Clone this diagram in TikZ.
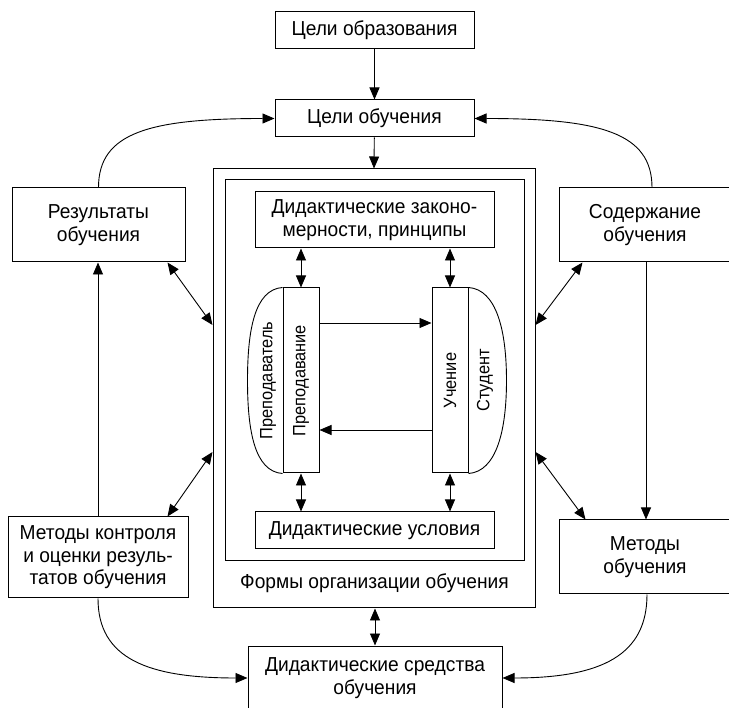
\documentclass[tikz,border=0pt]{standalone}
\usepackage{fontspec}
\setmainfont{Liberation Sans}[FakeStretch=0.95]
\newfontfamily\rotfont{Liberation Sans}[FakeStretch=0.92]
\usetikzlibrary{arrows.meta}
\tikzset{
  box/.style={draw, line width=1pt, inner sep=0pt, align=center, font=\fontsize{20.2}{22.5}\selectfont},
  frame/.style={draw, line width=1pt, inner sep=0pt},
  lbl/.style={inner sep=0pt, font=\fontsize{20.2}{22.5}\selectfont},
  rlbl/.style={inner sep=0pt, rotate=90, font=\rotfont\fontsize{17.8}{20}\selectfont},
  conn/.style={line width=0.9pt, -{Triangle[length=12pt,width=10pt]}},
  biconn/.style={line width=0.9pt, {Triangle[length=12pt,width=10pt]}-{Triangle[length=12pt,width=10pt]}},
  plain/.style={line width=0.9pt}
}
\begin{document}
\begin{tikzpicture}[x=1pt,y=-1pt]
\useasboundingbox (0,0) rectangle (729,708);
% frames
\node[frame, minimum width=322pt, minimum height=439pt] (outer) at (374,388.5) {};
\node[frame, minimum width=299pt, minimum height=381pt] (inner) at (374.5,370.5) {};
% boxes
\node[box, minimum width=199pt, minimum height=37pt] (celiobr) at (374.5,30.5) {Цели образования};
\node[box, minimum width=199pt, minimum height=37pt] (celiob) at (374.5,118.5) {Цели обучения};
\node[box, minimum width=239pt, minimum height=56pt] (zakon) at (374.5,220) {Дидактические законо-\\мерности, принципы};
\node[box, minimum width=239pt, minimum height=37pt] (usl) at (374.5,530.5) {Дидактические условия};
\node[box, minimum width=173pt, minimum height=74pt] (res) at (98.5,225) {Результаты\\обучения};
\node[box, minimum width=172pt, minimum height=74pt] (sod) at (645,225) {Содержание\\обучения};
\node[box, minimum width=180pt, minimum height=81pt] (mk) at (98,557.5) {Методы контроля\\и оценки резуль-\\татов обучения};
\node[box, minimum width=172pt, minimum height=74pt] (mo) at (645,557) {Методы\\обучения};
\node[box, minimum width=254pt, minimum height=64pt] (sr) at (375,678) {Дидактические средства\\обучения};
\node[lbl] (formy) at (374.5,583) {Формы организации обучения};
% pills
\node[frame, minimum width=36pt, minimum height=185pt] (prep) at (301,380.5) {};
\node[frame, minimum width=36pt, minimum height=185pt] (uch) at (450,380.5) {};
\draw[plain] (prep.north west) .. controls ([xshift=-28pt,yshift=-2pt]prep.north west) and ([xshift=-35pt,yshift=50pt]prep.west) .. ([xshift=-35pt]prep.west)
  .. controls ([xshift=-35pt,yshift=-50pt]prep.west) and ([xshift=-28pt,yshift=2pt]prep.south west) .. (prep.south west);
\draw[plain] (uch.north east) .. controls ([xshift=28pt,yshift=-2pt]uch.north east) and ([xshift=38pt,yshift=50pt]uch.east) .. ([xshift=38pt]uch.east)
  .. controls ([xshift=38pt,yshift=-50pt]uch.east) and ([xshift=28pt,yshift=2pt]uch.south east) .. (uch.south east);
\node[rlbl] (tprep) at (268,380.5) {Преподаватель};
\node[rlbl] at (prep) {Преподавание};
\node[rlbl] at (uch) {Учение};
\node[rlbl] (tstud) at (485,380.5) {Студент};
% connectors
\draw[conn] (celiobr) -- (celiob);
\draw[conn] (celiob) -- (outer.north);
\draw[conn] (res.north) .. controls +(0,-55) and +(-125,0) .. (celiob.west);
\draw[conn] ([xshift=7pt]sod.north) .. controls +(0,-55) and +(125,0) .. (celiob.east);
\draw[biconn] (zakon.south -| prep.north) -- (prep.north);
\draw[biconn] (zakon.south -| uch.north) -- (uch.north);
\draw[biconn] (prep.south) -- (prep.south |- usl.north);
\draw[biconn] (uch.south) -- (uch.south |- usl.north);
\draw[conn] ([yshift=57.5pt]prep.east) -- ([yshift=57.5pt]uch.west);
\draw[conn] ([yshift=-49.5pt]uch.west) -- ([yshift=-49.5pt]prep.east);
\draw[biconn] ([xshift=-18pt]res.south east) -- ([yshift=63.5pt]outer.west);
\draw[biconn] ([xshift=-21pt]mk.north east) -- ([yshift=-63.5pt]outer.west);
\draw[biconn] ([xshift=24pt]sod.south west) -- ([yshift=63.5pt]outer.east);
\draw[biconn] ([xshift=27pt]mo.north west) -- ([yshift=-63.5pt]outer.east);
\draw[conn] (mk.north) -- (mk.north |- res.south);
\draw[conn] ([xshift=1pt]sod.south) -- ([xshift=1pt]sod.south |- mo.north);
\draw[conn] (mk.south) .. controls +(0,60) and +(-100,0) .. (sr.west);
\draw[conn] ([xshift=2pt]mo.south) .. controls +(0,60) and +(100,0) .. (sr.east);
\draw[biconn] (outer.south -| sr.north) -- (sr.north);
\end{tikzpicture}
\end{document}
